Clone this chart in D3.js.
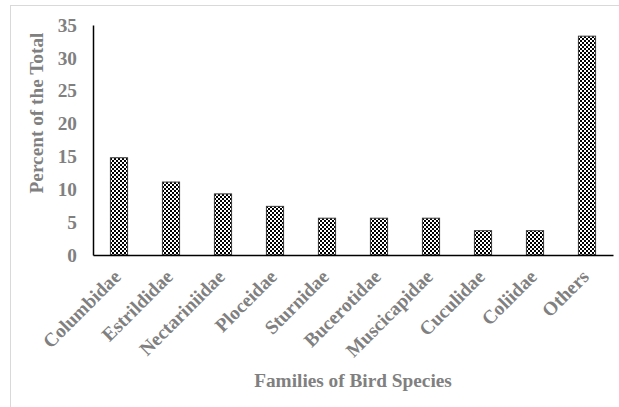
<!DOCTYPE html>
<html>
<head>
<meta charset="utf-8">
<script src="https://cdn.jsdelivr.net/npm/d3@7"></script>
<style>
  html, body { margin: 0; padding: 0; background: #fff; }
  svg { display: block; }
</style>
</head>
<body>
<script>
const categories = ["Columbidae", "Estrildidae", "Nectariniidae", "Ploceidae", "Sturnidae",
  "Bucerotidae", "Muscicapidae", "Cuculidae", "Coliidae", "Others"];
const percents = [14.8, 11.1, 9.3, 7.4, 5.6, 5.6, 5.6, 3.7, 3.7, 33.3];
const yTicks = [0, 5, 10, 15, 20, 25, 30, 35];
const xTitle = "Families of Bird Species";
const yTitle = "Percent of the Total";

const W = 619, H = 407;
const plot = { left: 93, right: 613, top: 25, bottom: 255 };
const textColor = "#808080";
const fontFamily = "'Liberation Serif', 'Times New Roman', serif";
const fs = 19.3;

const svg = d3.select("body").append("svg").attr("width", W).attr("height", H);

// outer chart border
svg.append("rect").attr("x", 10.5).attr("y", 5.5).attr("width", 640).attr("height", 440)
  .attr("fill", "none").attr("stroke", "#d9d9d9").attr("stroke-width", 1);

// pattern
const defs = svg.append("defs");
const pat = defs.append("pattern").attr("id", "checker").attr("patternUnits", "userSpaceOnUse")
  .attr("width", 4).attr("height", 4);
pat.append("rect").attr("width", 4).attr("height", 4).attr("fill", "#fff");
pat.append("rect").attr("x", 0).attr("y", 0).attr("width", 2).attr("height", 2).attr("fill", "#000");
pat.append("rect").attr("x", 2).attr("y", 2).attr("width", 2).attr("height", 2).attr("fill", "#000");

const x = d3.scaleBand().domain(categories).range([plot.left, plot.right]).paddingInner(0.67).paddingOuter(0.335);
const y = d3.scaleLinear().domain([0, 35]).range([plot.bottom, plot.top]);

// bars
svg.append("g").selectAll("rect").data(categories).join("rect")
  .attr("x", d => x(d))
  .attr("y", (d, i) => y(percents[i]))
  .attr("width", x.bandwidth())
  .attr("height", (d, i) => y(0) - y(percents[i]))
  .attr("fill", "url(#checker)")
  .attr("stroke", "#3a3a3a")
  .attr("stroke-width", 1);

// y axis
const yAxis = svg.append("g").attr("transform", `translate(${plot.left},0)`)
  .call(d3.axisLeft(y).tickValues(yTicks).tickSize(0).tickPadding(16));
yAxis.select(".domain").attr("stroke", "#000").attr("stroke-width", 1.5);
yAxis.selectAll("text").attr("fill", textColor).attr("font-family", fontFamily)
  .attr("font-weight", "bold").attr("font-size", fs);

// x axis
const xAxis = svg.append("g").attr("transform", `translate(0,${plot.bottom})`)
  .call(d3.axisBottom(x).tickSize(0).tickSizeOuter(0));
xAxis.select(".domain").attr("stroke", "#000").attr("stroke-width", 1.5);
xAxis.selectAll("text")
  .attr("fill", textColor).attr("font-family", fontFamily)
  .attr("font-weight", "bold").attr("font-size", fs)
  .attr("text-anchor", "end")
  .attr("dy", null).attr("y", null)
  .attr("transform", "translate(3,23) rotate(-45)");

// titles
svg.append("text").attr("x", 353).attr("y", 387).attr("text-anchor", "middle")
  .attr("fill", textColor).attr("font-family", fontFamily).attr("font-weight", "bold")
  .attr("font-size", fs).text(xTitle);
svg.append("text").attr("transform", "translate(43,113) rotate(-90)").attr("text-anchor", "middle")
  .attr("fill", textColor).attr("font-family", fontFamily).attr("font-weight", "bold")
  .attr("font-size", fs).text(yTitle);
</script>
</body>
</html>
